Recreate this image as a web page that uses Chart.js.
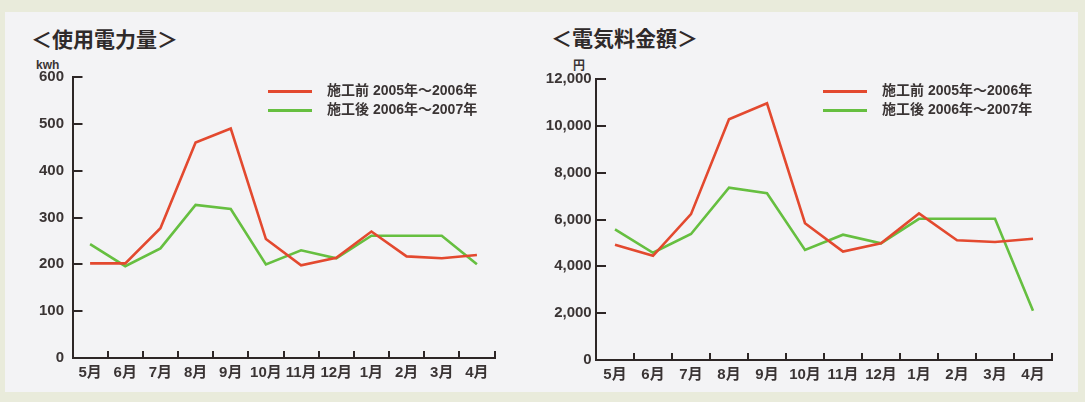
<!DOCTYPE html>
<html>
<head>
<meta charset="utf-8">
<script src="https://cdn.jsdelivr.net/npm/chart.js@4.4.0/dist/chart.umd.min.js"></script>
<style>
body{margin:0;background:#e9ebdb;width:1085px;height:402px;overflow:hidden;position:relative;font-family:'Liberation Sans','Noto Sans CJK JP',sans-serif;}
#panel{position:absolute;left:5px;top:12px;width:1073px;height:380px;background:#f3f3f5;}
.title{position:absolute;font-size:21px;line-height:24px;font-weight:bold;color:#2f2a2a;white-space:nowrap;}
.unit{position:absolute;font-size:12px;line-height:14px;font-weight:bold;color:#3a3434;}
canvas{position:absolute;top:0;}
.legend{position:absolute;font-size:14px;font-weight:bold;color:#3a3434;}
.legend div{height:19px;line-height:19px;white-space:nowrap;}
.legend .swatch{display:inline-block;width:44px;height:3px;vertical-align:middle;margin-right:15px;}
</style>
</head>
<body>
<div id="panel"></div>
<div class="title" style="left:31px;top:28px">＜使用電力量＞</div>
<div class="unit" style="left:36px;top:58px">kwh</div>
<div class="title" style="left:551px;top:27px">＜電気料金額＞</div>
<div class="unit" style="left:573px;top:59px">円</div>
<canvas id="kwhChart" width="540" height="402" style="left:0px"></canvas>
<canvas id="yenChart" width="545" height="402" style="left:540px"></canvas>
<div class="legend" id="kwhLegend" style="left:268px;top:81px"></div>
<div class="legend" id="yenLegend" style="left:823px;top:81px"></div>

<script>
var months = ["5月","6月","7月","8月","9月","10月","11月","12月","1月","2月","3月","4月"]
var seriesNames = ["施工前 2005年～2006年","施工後 2006年～2007年"]
var seriesColors = ["#e3492f","#66bf40"]

// 使用電力量 (kwh)
var kwhBefore = [202,202,277,460,490,254,198,214,270,217,213,220]
var kwhAfter  = [243,196,234,327,318,200,230,213,261,261,261,200]
var kwhMax = 600
var kwhStep = 100

// 電気料金額 (円)
var yenBefore = [4920,4450,6230,10280,10960,5840,4630,4980,6260,5110,5040,5180]
var yenAfter  = [5580,4580,5380,7360,7120,4700,5350,4980,6030,6030,6030,2100]
var yenMax = 12000
var yenStep = 2000

var axisColor = "#2d2626"
var textColor = "#3a3434"

Chart.defaults.font.family = "'Liberation Sans','Noto Sans CJK JP',sans-serif"

function makeChart(id, before, after, max, step, box){
    var ctx = document.getElementById(id)
    return new Chart(ctx, {
        type: "line",
        data: {
            labels: months,
            datasets: [{
                label: seriesNames[0],
                borderColor: seriesColors[0],
                backgroundColor: seriesColors[0],
                borderWidth: 2.6,
                pointRadius: 0,
                data: before
            },
            {
                label: seriesNames[1],
                borderColor: seriesColors[1],
                backgroundColor: seriesColors[1],
                borderWidth: 2.6,
                pointRadius: 0,
                data: after
            }]
        },
        options: {
            responsive: false,
            animation: false,
            devicePixelRatio: 1,
            layout: {padding: {left: 0, top: box.top, right: box.right, bottom: 14}},
            plugins: {legend: {display: false}, tooltip: {enabled: false}},
            scales: {
                x: {
                    offset: true,
                    grid: {offset: true, drawOnChartArea: false, tickLength: -7, color: axisColor, lineWidth: 2},
                    border: {color: axisColor, width: 2},
                    ticks: {padding: 13, autoSkip: false, maxRotation: 0, color: textColor, font: {size: 15, weight: "bold"}},
                    afterFit: function(s){ s.height = box.xh }
                },
                y: {
                    min: 0,
                    max: max,
                    grid: {drawOnChartArea: false, tickLength: -10, color: axisColor, lineWidth: 2},
                    border: {color: axisColor, width: 2},
                    ticks: {
                        stepSize: step,
                        padding: box.labelPad,
                        color: textColor,
                        font: {size: 15, weight: "bold"},
                        callback: function(v){ return v.toLocaleString("en-US") }
                    },
                    afterFit: function(s){ s.width = box.left }
                }
            }
        }
    })
}

// legend rows built from the chart's own datasets
function buildLegend(chart, id){
    var el = document.getElementById(id)
    chart.data.datasets.forEach(function(ds){
        var row = document.createElement("div")
        var sw = document.createElement("span")
        sw.className = "swatch"
        sw.style.background = ds.borderColor
        row.appendChild(sw)
        row.appendChild(document.createTextNode(ds.label))
        el.appendChild(row)
    })
}

var kwhChart = makeChart("kwhChart", kwhBefore, kwhAfter, kwhMax, kwhStep, {left: 72.5, top: 77, right: 45.5, xh: 30, labelPad: 18.5})
var yenChart = makeChart("yenChart", yenBefore, yenAfter, yenMax, yenStep, {left: 56, top: 79, right: 33, xh: 28, labelPad: 14.3})
buildLegend(kwhChart, "kwhLegend")
buildLegend(yenChart, "yenLegend")
</script>
</body>
</html>
